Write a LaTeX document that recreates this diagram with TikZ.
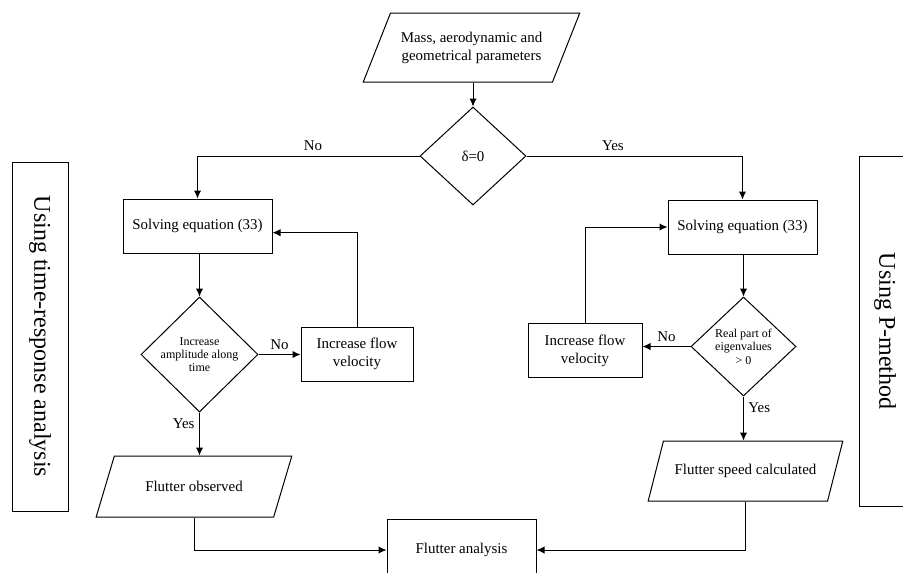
\documentclass[tikz,border=0pt]{standalone}
\usepackage{fontspec}
\setmainfont{Liberation Serif}
\usetikzlibrary{shapes.geometric,arrows.meta}
\def\unitpx{0.75pt}

\begin{document}
\begin{tikzpicture}[x=\unitpx,y=-\unitpx,->,>={Latex[length=6pt,width=5.5pt]},line width=0.75pt,font=\fontsize{11.2}{13.5}\selectfont]
		\tikzstyle{process}=[rectangle,draw,minimum width=149*\unitpx,minimum height=54*\unitpx,inner sep=2pt,align=center]
		\tikzstyle{loopbox}=[process,minimum width=112*\unitpx]
		\tikzstyle{decision}=[diamond,draw,aspect=1,inner sep=0pt,align=center,font=\fontsize{9}{10}\selectfont]
		\tikzstyle{io}=[trapezium,trapezium left angle=58,trapezium right angle=122,trapezium stretches=true,draw,align=center,minimum width=196*\unitpx,minimum height=61*\unitpx]
		\tikzstyle{method}=[rectangle,draw,rotate=-90,font=\fontsize{18}{21}\selectfont,minimum height=56*\unitpx]
		
		\useasboundingbox (0,0) rectangle (903,572);
		\clip (0,0) rectangle (903,572);
		
		% Draw the input and the first test
		\node[io,minimum width=217*\unitpx,minimum height=69*\unitpx] (params) at (471.5,47.5) {Mass, aerodynamic and\\geometrical parameters};
		\node[decision,minimum width=106*\unitpx,minimum height=98*\unitpx,font=\fontsize{11.2}{13.5}\selectfont] (delta) at (473,156) {δ=0};
		
		% Draw the time-response branch
		\node[process] (solve1) at (197.5,226) {Solving equation (33)};
		\node[decision,minimum width=117*\unitpx,minimum height=115*\unitpx] (amp) at (199.5,354.5) {Increase\\amplitude along\\time};
		\node[loopbox] (flow1) at (357,354) {Increase flow\\velocity};
		\node[io] (observed) at (194,486.5) {Flutter observed};
		
		% Draw the P-method branch
		\node[process] (solve2) at (742.5,227) {Solving equation (33)};
		\node[decision,minimum width=105*\unitpx,minimum height=99*\unitpx] (eigen) at (743.5,346.5) {Real part of\\eigenvalues\\> 0};
		\node[loopbox,minimum width=114*\unitpx] (flow2) at (585,350.5) {Increase flow\\velocity};
		\node[io,minimum width=195*\unitpx,minimum height=60*\unitpx] (speed) at (745.5,471) {Flutter speed calculated};
		
		% Draw the common output
		\node[process,minimum height=62*\unitpx] (analysis) at (461.5,550) {Flutter analysis};
		
		% Annotate the two methods
		\node[method,minimum width=349*\unitpx] (timeresp) at (40,336.5) {Using time-response analysis};
		\node[method,minimum width=350*\unitpx,minimum height=52*\unitpx] (pmethod) at (885,331) {Using P-method};
		
		% Connect the input with the test
		\draw (delta.north |- params.south) -- (delta.north);
		\draw (delta.west) -| node[pos=0.24,above] {No} (solve1.north);
		\draw (delta.east) -| node[pos=0.2,above] {Yes} (solve2.north);
		
		% Connect the time-response branch
		\draw (amp.north |- solve1.south) -- (amp.north);
		\draw (amp.east) -- node[above] {No} (amp.east -| flow1.west);
		\draw (flow1.north) |- ([yshift=-5pt]solve1.east);
		\draw (amp.south) -- node[pos=0.25,left] {Yes} (amp.south |- observed.north);
		\draw (observed.center |- observed.south) |- (analysis.west);
		
		% Connect the P-method branch
		\draw (eigen.north |- solve2.south) -- (eigen.north);
		\draw (eigen.west) -- node[above] {No} (eigen.west -| flow2.east);
		\draw (flow2.north) |- (solve2.west);
		\draw (eigen.south) -- node[pos=0.25,right] {Yes} (eigen.south |- speed.north);
		\draw (speed.center |- speed.south) |- (analysis.east);
	\end{tikzpicture}
\end{document}
